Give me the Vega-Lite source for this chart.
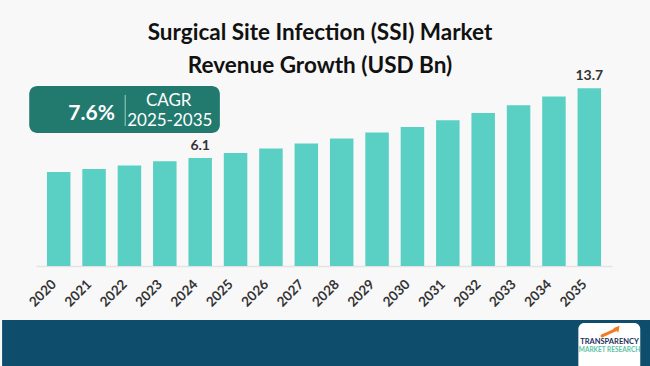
{
  "$schema": "https://vega.github.io/schema/vega-lite/v6.json",
  "width": 576,
  "height": 200,
  "autosize": "none",
  "padding": {"left": 36, "top": 66, "right": 38, "bottom": 100},
  "background": "#f8f8f8",
  "config": {
    "view": {"stroke": null},
    "font": "Lato",
    "axisX": {
      "labelOverlap": false,
      "labelSeparation": -30,
      "labelFlush": false,
      "labelBound": false,
      "labelAngle": -45,
      "labelFont": "Lato",
      "labelFontSize": 13.5,
      "labelFontWeight": "bold",
      "labelColor": "#333333",
      "labelPadding": 11,
      "labelOffset": -10,
      "ticks": false,
      "grid": false,
      "domainColor": "#e3e3e3",
      "domainWidth": 1.5
    }
  },
  "title": {
    "text": ["Surgical Site Infection (SSI) Market", "Revenue Growth (USD Bn)"],
    "font": "Lato",
    "fontSize": 22.5,
    "fontWeight": "bold",
    "color": "#111111",
    "anchor": "middle",
    "frame": "group",
    "lineHeight": 33,
    "offset": -11,
    "dx": -4
  },
  "data": {
    "values": [
      {"year": 2020, "value": 4.57},
      {"year": 2021, "value": 4.9},
      {"year": 2022, "value": 5.27},
      {"year": 2023, "value": 5.74},
      {"year": 2024, "value": 6.1},
      {"year": 2025, "value": 6.65},
      {"year": 2026, "value": 7.12},
      {"year": 2027, "value": 7.67},
      {"year": 2028, "value": 8.22},
      {"year": 2029, "value": 8.87},
      {"year": 2030, "value": 9.48},
      {"year": 2031, "value": 10.21},
      {"year": 2032, "value": 11.01},
      {"year": 2033, "value": 11.85},
      {"year": 2034, "value": 12.8},
      {"year": 2035, "value": 13.7}
    ]
  },
  "layer": [
    {
      "mark": {"type": "bar", "color": "#5acfc3", "width": 23.5},
      "encoding": {
        "x": {
          "field": "year",
          "type": "quantitative",
          "scale": {"domain": [2019.5, 2035.5], "nice": false, "zero": false},
          "axis": {
            "values": [2020, 2021, 2022, 2023, 2024, 2025, 2026, 2027, 2028, 2029, 2030, 2031, 2032, 2033, 2034, 2035],
            "tickCount": 16,
            "format": "d",
            "labelOverlap": false,
            "labelSeparation": -30,
            "title": null
          }
        },
        "y": {
          "field": "value",
          "type": "quantitative",
          "scale": {"domain": [-5.68, 16.13], "nice": false, "zero": false},
          "axis": null
        },
        "y2": {"datum": -5.68}
      }
    },
    {
      "data": {"values": [{}]},
      "mark": {"type": "rect", "color": "#0e4d6b"},
      "encoding": {
        "x": {"datum": 2018.4, "type": "quantitative"},
        "x2": {"datum": 2037.2},
        "y": {"datum": -11.57, "type": "quantitative"},
        "y2": {"datum": -17.5}
      }
    },
    {
      "data": {"values": [{}]},
      "mark": {"type": "rect", "color": "#ffffff", "cornerRadius": 6},
      "encoding": {
        "x": {"datum": 2034.69, "type": "quantitative"},
        "x2": {"datum": 2036.44},
        "y": {"datum": -11.9, "type": "quantitative"},
        "y2": {"datum": -17.3}
      }
    },
    {
      "data": {"values": [{}]},
      "mark": {"type": "rule", "color": "#f47b20", "strokeWidth": 3, "strokeCap": "round"},
      "encoding": {
        "x": {"datum": 2035.36, "type": "quantitative"},
        "x2": {"datum": 2035.74},
        "y": {"datum": -13.3, "type": "quantitative"},
        "y2": {"datum": -12.65}
      }
    },
    {
      "data": {"values": [{}]},
      "mark": {"type": "point", "shape": "triangle-up", "angle": 40, "filled": true, "size": 45, "color": "#f47b20", "opacity": 1},
      "encoding": {
        "x": {"datum": 2035.8, "type": "quantitative"},
        "y": {"datum": -12.45, "type": "quantitative"}
      }
    },
    {
      "data": {"values": [{"t": "TRANSPARENCY"}]},
      "mark": {"type": "text", "font": "Lato", "fontSize": 7.5, "fontWeight": "bold", "color": "#1e2f5a", "baseline": "middle"},
      "encoding": {
        "x": {"datum": 2035.57, "type": "quantitative"},
        "y": {"datum": -14.0, "type": "quantitative"},
        "text": {"field": "t"}
      }
    },
    {
      "data": {"values": [{"t": "MARKET RESEARCH"}]},
      "mark": {"type": "text", "font": "Lato", "fontSize": 6.5, "fontWeight": "bold", "color": "#5cc2a6", "baseline": "middle"},
      "encoding": {
        "x": {"datum": 2035.57, "type": "quantitative"},
        "y": {"datum": -14.85, "type": "quantitative"},
        "text": {"field": "t"}
      }
    },
    {
      "transform": [{"filter": "datum.year == 2024 || datum.year == 2035"}],
      "mark": {"type": "text", "font": "Lato", "fontSize": 14, "fontWeight": "bold", "color": "#333333", "baseline": "bottom", "dy": -5},
      "encoding": {
        "x": {"field": "year", "type": "quantitative"},
        "y": {"field": "value", "type": "quantitative"},
        "text": {"field": "value", "type": "quantitative", "format": ".1f"}
      }
    },
    {
      "data": {"values": [{}]},
      "mark": {"type": "rect", "color": "#227a6e", "cornerRadius": 8},
      "encoding": {
        "x": {"datum": 2019.167, "type": "quantitative"},
        "x2": {"datum": 2024.556},
        "y": {"datum": 13.95, "type": "quantitative"},
        "y2": {"datum": 8.82}
      }
    },
    {
      "data": {"values": [{}]},
      "mark": {"type": "rule", "color": "#9fcfc6", "strokeWidth": 1},
      "encoding": {
        "x": {"datum": 2021.88, "type": "quantitative"},
        "y": {"datum": 12.97, "type": "quantitative"},
        "y2": {"datum": 9.59}
      }
    },
    {
      "data": {"values": [{"t": "7.6%"}]},
      "mark": {"type": "text", "font": "Lato", "fontSize": 21, "fontWeight": "bold", "color": "#ffffff", "baseline": "middle"},
      "encoding": {
        "x": {"datum": 2020.93, "type": "quantitative"},
        "y": {"datum": 10.9, "type": "quantitative"},
        "text": {"field": "t"}
      }
    },
    {
      "data": {"values": [{"t": "CAGR"}]},
      "mark": {"type": "text", "font": "Lato", "fontSize": 17, "color": "#ffffff", "baseline": "middle"},
      "encoding": {
        "x": {"datum": 2023.11, "type": "quantitative"},
        "y": {"datum": 12.31, "type": "quantitative"},
        "text": {"field": "t"}
      }
    },
    {
      "data": {"values": [{"t": "2025-2035"}]},
      "mark": {"type": "text", "font": "Lato", "fontSize": 17, "color": "#ffffff", "baseline": "middle"},
      "encoding": {
        "x": {"datum": 2023.14, "type": "quantitative"},
        "y": {"datum": 10.13, "type": "quantitative"},
        "text": {"field": "t"}
      }
    }
  ]
}
